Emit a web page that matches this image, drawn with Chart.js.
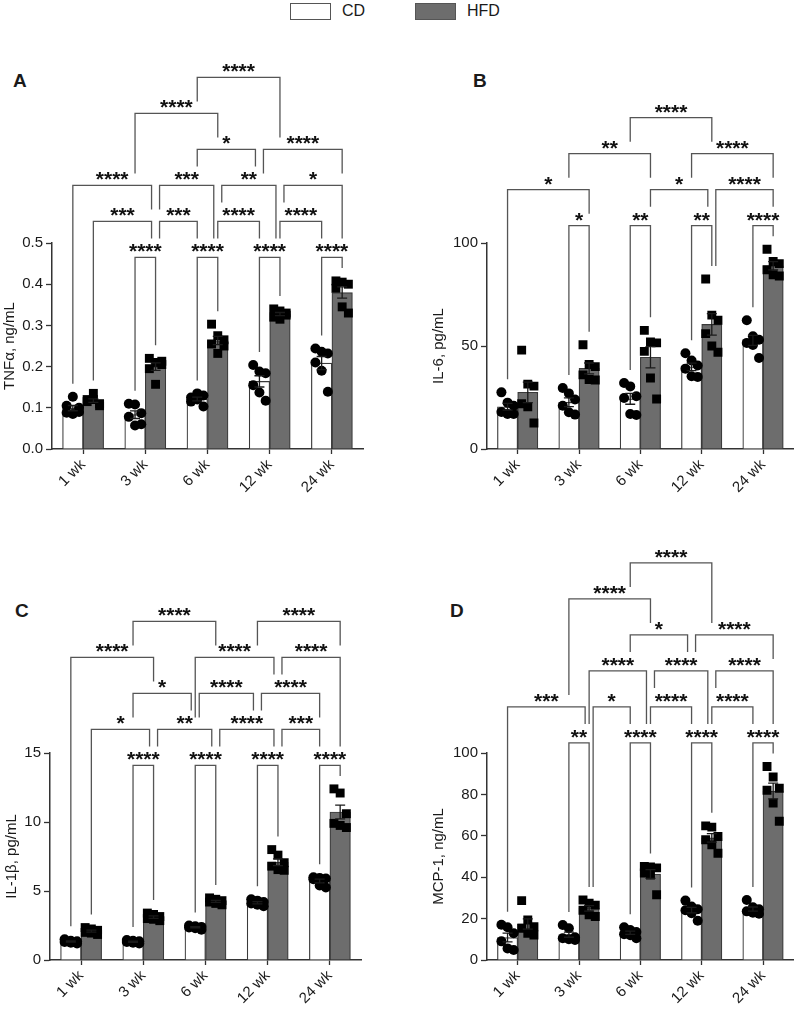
<!DOCTYPE html>
<html>
<head>
<meta charset="utf-8">
<script src="https://cdn.jsdelivr.net/npm/chart.js@4"></script>
<style>
  html, body { margin: 0; padding: 0; background: #fff; }
  body { width: 800px; height: 1009px; position: relative; overflow: hidden; font-family: "Liberation Sans", Arial, sans-serif; color: #1a1a1a; }
  canvas { position: absolute; }
  .tag { position: absolute; font-weight: bold; font-size: 19px; line-height: 19px; }
  .key { position: absolute; top: 3px; width: 39px; height: 15px; border: 1px solid #555; }
  .keytxt { position: absolute; top: 2px; font-size: 16px; line-height: 18px; }
</style>
</head>
<body>
<div id="legend"></div>
<div class="tag" style="left:13px;top:71px">A</div>
<div class="tag" style="left:473px;top:71px">B</div>
<div class="tag" style="left:15px;top:601px">C</div>
<div class="tag" style="left:450px;top:601px">D</div>
<canvas id="cA" width="400" height="470" style="left:0;top:40px"></canvas>
<canvas id="cB" width="371" height="470" style="left:429px;top:40px"></canvas>
<canvas id="cC" width="398" height="489" style="left:2px;top:520px"></canvas>
<canvas id="cD" width="371" height="489" style="left:429px;top:520px"></canvas>
<script>
Chart.defaults.font.family = '"Liberation Sans", Arial, sans-serif';
Chart.defaults.font.size = 15;
Chart.defaults.color = '#1a1a1a';
Chart.defaults.animation = false;

const weeks = ['1 wk', '3 wk', '6 wk', '12 wk', '24 wk'];
const weekTicks = [0, 1, 2, 3, 4];
const seriesNames = ['CD', 'HFD'];
const seriesFill = ['#ffffff', '#6d6d6d'];

// A - TNFa, one row per time point, 6 mice each
const tnfCD = [
  [0.105, 0.127, 0.100, 0.088, 0.085, 0.090],
  [0.110, 0.108, 0.087, 0.078, 0.057, 0.060],
  [0.125, 0.135, 0.130, 0.115, 0.120, 0.103],
  [0.204, 0.188, 0.184, 0.155, 0.137, 0.117],
  [0.244, 0.236, 0.232, 0.210, 0.190, 0.139]
];
const tnfHFD = [
  [0.120, 0.135, 0.110, 0.115, 0.120, 0.105],
  [0.220, 0.210, 0.205, 0.195, 0.157, 0.213],
  [0.303, 0.275, 0.265, 0.255, 0.232, 0.250],
  [0.340, 0.335, 0.325, 0.320, 0.315, 0.330],
  [0.408, 0.405, 0.400, 0.390, 0.345, 0.330]
];
const tnfTicks = [0, 0.1, 0.2, 0.3, 0.4, 0.5];
const tnfTickLabels = ['0.0', '0.1', '0.2', '0.3', '0.4', '0.5'];
// [week, series, week, series, tier, stars]
const tnfSig = [
  [1, 0, 1, 1, 1, '****'], [2, 0, 2, 1, 1, '****'], [3, 0, 3, 1, 1, '****'], [4, 0, 4, 1, 1, '****'],
  [0, 1, 1, 1, 2, '***'], [1, 1, 2, 0, 2, '***'], [2, 1, 3, 0, 2, '****'], [3, 1, 4, 0, 2, '****'],
  [0, 0, 1, 1, 3, '****'], [1, 1, 2, 1, 3, '***'], [2, 1, 3, 1, 3, '**'], [3, 1, 4, 1, 3, '*'],
  [2, 0, 3, 0, 4, '*'], [3, 0, 4, 1, 4, '****'],
  [1, 0, 2, 1, 5, '****'],
  [2, 0, 3, 1, 6, '****']
];

// B - IL-6
const il6CD = [
  [27.5, 22.5, 21, 18, 17, 17],
  [29.6, 27, 24, 21, 17.8, 16.7],
  [32, 30.4, 25.6, 24.8, 17, 16.5],
  [46.5, 43, 40.5, 39, 35.3, 35],
  [62.5, 54.7, 53, 51.5, 50.5, 44.2]
];
const il6HFD = [
  [48, 31.5, 30.5, 22, 20.5, 12.6],
  [50.6, 41, 40, 36, 33.7, 33.5],
  [57.6, 52, 51.5, 47.4, 34.5, 24.3],
  [82.5, 65, 62.5, 56, 50, 47],
  [97, 91, 90, 87, 84.6, 84]
];
const il6Ticks = [0, 50, 100];
const il6TickLabels = ['0', '50', '100'];
const il6Sig = [
  [1, 0, 1, 1, 1, '*'], [2, 0, 2, 1, 1, '**'], [3, 0, 3, 1, 1, '**'], [4, 0, 4, 1, 1, '****'],
  [0, 0, 1, 1, 2, '*'], [2, 1, 3, 1, 2, '*'], [3, 1, 4, 1, 2, '****'],
  [1, 0, 2, 1, 3, '**'], [3, 0, 4, 1, 3, '****'],
  [2, 0, 3, 1, 4, '****']
];

// C - IL-1b
const il1CD = [
  [1.5, 1.4, 1.35, 1.3, 1.25, 1.2],
  [1.45, 1.4, 1.35, 1.3, 1.25, 1.2],
  [2.5, 2.45, 2.4, 2.35, 2.3, 2.2],
  [4.4, 4.3, 4.2, 4.1, 4.0, 3.9],
  [6.0, 5.95, 5.9, 5.85, 5.4, 5.25]
];
const il1HFD = [
  [2.35, 2.25, 2.15, 2.0, 1.95, 1.85],
  [3.4, 3.3, 3.15, 3.0, 2.95, 2.85],
  [4.5, 4.4, 4.3, 4.2, 4.1, 4.0],
  [8.0, 7.6, 7.05, 6.8, 6.55, 6.5],
  [12.4, 12.1, 10.6, 9.9, 9.75, 9.6]
];
const il1Ticks = [0, 5, 10, 15];
const il1TickLabels = ['0', '5', '10', '15'];
const il1Sig = [
  [1, 0, 1, 1, 1, '****'], [2, 0, 2, 1, 1, '****'], [3, 0, 3, 1, 1, '****'], [4, 0, 4, 1, 1, '****'],
  [0, 1, 1, 1, 2, '*'], [1, 1, 2, 1, 2, '**'], [2, 1, 3, 1, 2, '****'], [3, 1, 4, 0, 2, '***'],
  [1, 0, 2, 0, 3, '*'], [2, 0, 3, 0, 3, '****'], [3, 0, 4, 0, 3, '****'],
  [0, 0, 1, 1, 4, '****'], [2, 0, 3, 1, 4, '****'], [3, 1, 4, 1, 4, '****'],
  [1, 0, 2, 1, 5, '****'], [3, 0, 4, 1, 5, '****']
];

// D - MCP-1
const mcpCD = [
  [17, 15.8, 12.9, 9, 5.6, 4.8],
  [16.9, 15.3, 11, 10.5, 10, 9.7],
  [15.8, 14.5, 13.5, 12.5, 12, 10.5],
  [28.7, 25.8, 24.5, 24, 22.6, 19],
  [29, 25.5, 24.5, 23.5, 22.8, 22.3]
];
const mcpHFD = [
  [28.7, 19.4, 16.1, 15.3, 12.9, 12.1],
  [29, 27.4, 26.5, 24, 21.8, 21],
  [45.2, 45, 44.5, 42, 41, 31.5],
  [64.8, 64.2, 59.7, 58.1, 55.6, 51.6],
  [93.5, 88.4, 83, 82, 75.8, 67]
];
const mcpTicks = [0, 20, 40, 60, 80, 100];
const mcpTickLabels = ['0', '20', '40', '60', '80', '100'];
const mcpSig = [
  [1, 0, 1, 1, 1, '**'], [2, 0, 2, 1, 1, '****'], [3, 0, 3, 1, 1, '****'], [4, 0, 4, 1, 1, '****'],
  [0, 0, 1, 1, 2, '***'], [1, 1, 2, 0, 2, '*'], [2, 1, 3, 0, 2, '****'], [3, 1, 4, 0, 2, '****'],
  [1, 1, 2, 1, 3, '****'], [2, 1, 3, 1, 3, '****'], [3, 1, 4, 1, 3, '****'],
  [2, 0, 3, 0, 4, '*'], [3, 0, 4, 1, 4, '****'],
  [1, 0, 2, 1, 5, '****'],
  [2, 0, 3, 1, 6, '****']
];

// ── helpers ─────────────────────────────────────
const mean = a => a.reduce((s, v) => s + v, 0) / a.length;
const sem = a => {
  const m = mean(a);
  return Math.sqrt(a.reduce((s, v) => s + (v - m) ** 2, 0) / (a.length - 1) / a.length);
};
const BAR_OFF = 0.165;           // half a bar, in week units
const spread = [-0.1, 0, 0.1];   // dot columns inside a bar
const axisColor = '#333';
const barX = (g, s) => g + (s ? BAR_OFF : -BAR_OFF);

const pointsOf = (rows, s) => rows.flatMap((vals, g) =>
  vals.map((v, k) => ({ x: barX(g, s) + spread[k % 3], y: v })));
const barsOf = (rows, s) => rows.map((vals, g) => ({ x: barX(g, s), y: mean(vals) }));

// legend
const legend = document.getElementById('legend');
[290, 415].forEach((left, i) => {
  legend.insertAdjacentHTML('beforeend',
    `<div class="key" style="left:${left}px;background:${seriesFill[i]}"></div>` +
    `<div class="keytxt" style="left:${left + 52}px">${seriesNames[i]}</div>`);
});

// error bars + significance brackets
function marks(series, sig) {
  return {
    id: 'marks',
    afterDatasetsDraw(chart) {
      const x = chart.scales.x, y = chart.scales.y, ctx = chart.ctx;
      ctx.save();
      ctx.strokeStyle = '#1a1a1a';
      ctx.lineWidth = 1.3;
      series.forEach((rows, s) => rows.forEach((vals, g) => {
        const m = mean(vals), e = sem(vals);
        const px = x.getPixelForValue(barX(g, s));
        const yt = y.getPixelForValue(m + e), yb = y.getPixelForValue(m - e);
        ctx.beginPath();
        ctx.moveTo(px, yt); ctx.lineTo(px, yb);
        ctx.moveTo(px - 5, yt); ctx.lineTo(px + 5, yt);
        ctx.moveTo(px - 5, yb); ctx.lineTo(px + 5, yb);
        ctx.stroke();
      }));

      const top = Math.max(...series.flatMap(rows => rows.flatMap(v => [...v, mean(v) + sem(v)])));
      const base = y.getPixelForValue(top) - 23.5;
      ctx.font = 'bold 21px "Liberation Sans", Arial, sans-serif';
      const key = (g, s) => g * 2 + s;
      const items = sig.map(([g1, s1, g2, s2, tier, label]) => {
        const shareL = sig.some(o => o[4] === tier && key(o[2], o[3]) === key(g1, s1));
        const shareR = sig.some(o => o[4] === tier && key(o[0], o[1]) === key(g2, s2));
        const x1 = x.getPixelForValue(barX(g1, s1)) + (shareL ? 4 : 0);
        const x2 = x.getPixelForValue(barX(g2, s2)) - (shareR ? 4 : 0);
        return { g1, s1, g2, s2, tier, label, x1, x2, cx: (x1 + x2) / 2,
                 w: ctx.measureText(label).width, y: base - 36 * (tier - 1) };
      });
      const legEnd = (px, g, s, tier) => {
        const vals = series[s][g];
        let stop = Math.min(y.getPixelForValue(Math.max(...vals)) - 5,
                            y.getPixelForValue(mean(vals) + sem(vals))) - 8;
        items.forEach(o => {
          if (o.tier >= tier) return;
          if (px >= o.x1 - 1 && px <= o.x2 + 1) stop = Math.min(stop, o.y - 12);
          if (Math.abs(px - o.cx) <= o.w / 2 + 2) stop = Math.min(stop, o.y - 19);
        });
        return stop;
      };
      ctx.strokeStyle = '#555';
      ctx.fillStyle = '#111';
      ctx.textAlign = 'center';
      ctx.textBaseline = 'alphabetic';
      items.forEach(o => {
        ctx.beginPath();
        ctx.moveTo(o.x1, legEnd(o.x1, o.g1, o.s1, o.tier));
        ctx.lineTo(o.x1, o.y);
        ctx.lineTo(o.x2, o.y);
        ctx.lineTo(o.x2, legEnd(o.x2, o.g2, o.s2, o.tier));
        ctx.stroke();
        ctx.fillText(o.label, o.cx, o.y + 1);
      });
      ctx.restore();
    }
  };
}

function panel(id, cd, hfd, sig, title, ticks, tickLabels, yw, padRight, padTop, xh) {
  const barStyle = { type: 'bar', grouped: false, categoryPercentage: 1, barPercentage: 1,
                     borderColor: '#3a3a3a', borderWidth: 1.2, order: 1 };
  new Chart(document.getElementById(id), {
    type: 'bar',
    data: {
      datasets: [
        { type: 'scatter', label: 'CD points', data: pointsOf(cd, 0),
          pointStyle: 'circle', pointRadius: 5, backgroundColor: '#000', borderWidth: 0, order: 0 },
        { type: 'scatter', label: 'HFD points', data: pointsOf(hfd, 1),
          pointStyle: 'rect', pointRadius: 6.3, backgroundColor: '#000', borderWidth: 0, order: 0 },
        { ...barStyle, label: seriesNames[0], data: barsOf(cd, 0), backgroundColor: seriesFill[0] },
        { ...barStyle, label: seriesNames[1], data: barsOf(hfd, 1), backgroundColor: seriesFill[1] }
      ]
    },
    options: {
      responsive: false,
      devicePixelRatio: 1,
      layout: { padding: { top: padTop, right: padRight, left: 0, bottom: 0 } },
      plugins: { legend: { display: false }, tooltip: { enabled: false } },
      scales: {
        x: {
          type: 'linear', min: -0.5, max: 4.5, offset: false,
          afterBuildTicks: s => { s.ticks = weekTicks.map(v => ({ value: v })); },
          grid: { drawOnChartArea: false, offset: false, tickLength: 5, tickColor: axisColor, tickWidth: 1.3 },
          border: { color: axisColor, width: 1.5 },
          ticks: { callback: (v, i) => weeks[i], minRotation: 45, maxRotation: 45, autoSkip: false, padding: 2 },
          afterFit: s => { s.height = xh; }
        },
        y: {
          type: 'linear', min: 0, max: ticks[ticks.length - 1],
          afterBuildTicks: s => { s.ticks = ticks.map(v => ({ value: v })); },
          ticks: { callback: (v, i) => tickLabels[i], padding: 3 },
          grid: { drawOnChartArea: false, tickLength: 6, tickColor: axisColor, tickWidth: 1.3 },
          border: { color: axisColor, width: 1.5 },
          title: { display: true, text: title, padding: { top: 1, bottom: 0 } },
          afterFit: s => { s.width = yw; }
        }
      }
    },
    plugins: [marks([cd, hfd], sig)]
  });
}

panel('cA', tnfCD, tnfHFD, tnfSig, 'TNFα, ng/mL', tnfTicks, tnfTickLabels, 52, 37, 203, 61);
panel('cB', il6CD, il6HFD, il6Sig, 'IL-6, pg/mL', il6Ticks, il6TickLabels, 58, 2, 203, 61);
panel('cC', il1CD, il1HFD, il1Sig, 'IL-1β, pg/mL', il1Ticks, il1TickLabels, 48, 39, 233, 49);
panel('cD', mcpCD, mcpHFD, mcpSig, 'MCP-1, ng/mL', mcpTicks, mcpTickLabels, 58, 2, 233, 49);
</script>
</body>
</html>
